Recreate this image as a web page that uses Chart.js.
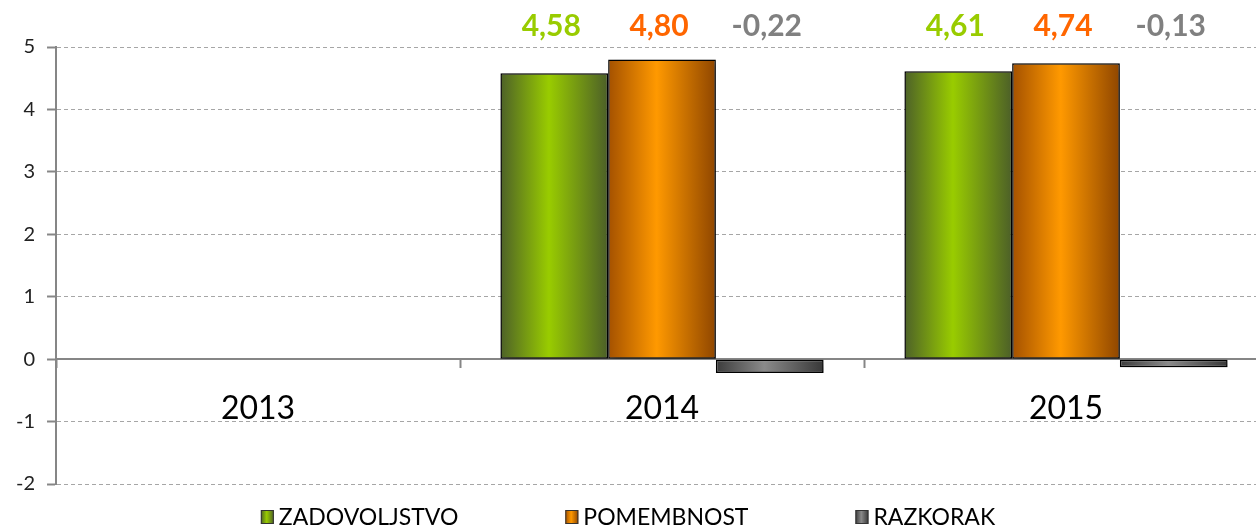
<!DOCTYPE html>
<html>
<head>
<meta charset="utf-8">
<script src="https://cdn.jsdelivr.net/npm/chart.js@4.4.0/dist/chart.umd.min.js"></script>
<style>
html, body { margin: 0; padding: 0; background: #fff; overflow: hidden; }
#wrap { width: 1256px; height: 527px; overflow: hidden; }
</style>
</head>
<body>
<!-- plot area runs a little past the right edge, as in the original -->
<div id="wrap"><canvas id="barChart" width="1268" height="527"></canvas></div>
<script>
var years = ["2013", "2014", "2015"];
var zadovoljstvo = [null, 4.58, 4.61];
var pomembnost = [null, 4.80, 4.74];
var razkorak = [null, -0.22, -0.13];
var seriesNames = ["ZADOVOLJSTVO", "POMEMBNOST", "RAZKORAK"];
var yTicks = [-2, -1, 0, 1, 2, 3, 4, 5];

var pageWidth = 1256;
var labelColors = ["#99cc00", "#ff6600", "#808080"];
// left edge, middle, right edge of each bar's shading
var barShades = [
	["#4d6128", "#99cc00", "#4c5f28"],
	["#a45100", "#ff9900", "#8f4600"],
	["#3c3c3c", "#8a8a8a", "#383838"]
];

var shadeGradient = function(ctx, x0, x1, shades){
	var g = ctx.createLinearGradient(x0, 0, x1, 0);
	g.addColorStop(0, shades[0]);
	g.addColorStop(0.45, shades[1]);
	g.addColorStop(1, shades[2]);
	return g;
}

var barLook = {
	id: 'barLook',
	beforeDatasetDraw: function(chart, args){
		var ctx = chart.ctx;
		var shades = barShades[args.index];
		args.meta.data.forEach(function(el){
			if (isNaN(el.x) || !el.width) return;
			el.options.backgroundColor = shadeGradient(ctx, el.x - el.width / 2, el.x + el.width / 2, shades);
		});
		ctx.save();
		ctx.shadowColor = 'rgba(0,0,0,0.38)';
		ctx.shadowBlur = 8;
		ctx.shadowOffsetX = 4;
		ctx.shadowOffsetY = 4;
	},
	afterDatasetDraw: function(chart){
		chart.ctx.restore();
	}
};

var valueLabels = {
	id: 'valueLabels',
	afterDatasetsDraw: function(chart){
		var ctx = chart.ctx;
		ctx.save();
		ctx.font = 'bold 30px Lato';
		ctx.textAlign = 'center';
		ctx.textBaseline = 'middle';
		chart.data.datasets.forEach(function(ds, i){
			var meta = chart.getDatasetMeta(i);
			meta.data.forEach(function(el, j){
				var v = ds.data[j];
				if (v === null) return;
				ctx.fillStyle = labelColors[i];
				ctx.fillText(v.toFixed(2).replace('.', ','), el.x - 3, chart.chartArea.top - 21);
			});
		});
		ctx.restore();
	}
};

var bottomLegend = {
	id: 'bottomLegend',
	afterDraw: function(chart){
		var ctx = chart.ctx;
		var boxW = 13, boxH = 14, gap = 107;
		ctx.save();
		ctx.font = '23px Lato';
		ctx.textBaseline = 'middle';
		var widths = seriesNames.map(function(n){ return boxW + 5 + ctx.measureText(n).width; });
		var total = widths.reduce(function(a, b){ return a + b; }, 0) + gap * (seriesNames.length - 1);
		var x = pageWidth / 2 - total / 2;
		var y = chart.height - 10;
		seriesNames.forEach(function(n, i){
			ctx.fillStyle = shadeGradient(ctx, x, x + boxW, barShades[i]);
			ctx.fillRect(x, y - boxH / 2, boxW, boxH);
			ctx.strokeStyle = '#333';
			ctx.lineWidth = 1;
			ctx.strokeRect(x + 0.5, y - boxH / 2 + 0.5, boxW - 1, boxH - 1);
			ctx.fillStyle = '#000';
			ctx.fillText(n, x + boxW + 5, y + 1);
			x += widths[i] + gap;
		});
		ctx.restore();
	}
};

var makeSet = function(i, values){
	return {
		label: seriesNames[i],
		data: values,
		backgroundColor: function(c){ return barShades[c.datasetIndex][1]; },
		borderColor: '#000',
		borderWidth: 1.5,
		borderSkipped: false
	};
}

var barChart = new Chart(document.getElementById('barChart').getContext('2d'), {
	type: 'bar',
	data: {
		labels: years,
		datasets: [makeSet(0, zadovoljstvo), makeSet(1, pomembnost), makeSet(2, razkorak)]
	},
	options: {
		responsive: false,
		animation: false,
		events: [],
		layout: { padding: { left: 4, right: 0, top: 47, bottom: 43 } },
		datasets: { bar: { categoryPercentage: 0.8, barPercentage: 1 } },
		plugins: {
			legend: { display: false },
			tooltip: { enabled: false }
		},
		scales: {
			x: {
				position: { y: 0 },
				grid: { drawOnChartArea: false, offset: true, tickLength: 8, tickColor: '#868686', tickWidth: 2 },
				border: { display: true, color: '#868686', width: 2 },
				ticks: { color: '#000', padding: 22, font: { family: 'Lato', size: 32 } }
			},
			y: {
				min: -2,
				max: 5,
				afterBuildTicks: function(scale){
					scale.ticks = yTicks.map(function(v){ return { value: v }; });
				},
				grid: { color: '#a6a6a6', lineWidth: 1, tickLength: 9, tickColor: '#868686', tickWidth: 2 },
				border: { color: '#868686', width: 2, dash: [4, 3] },
				ticks: { color: '#222', padding: 12, font: { family: 'Lato', size: 20 } }
			}
		}
	},
	plugins: [barLook, valueLabels, bottomLegend]
});
</script>
</body>
</html>
